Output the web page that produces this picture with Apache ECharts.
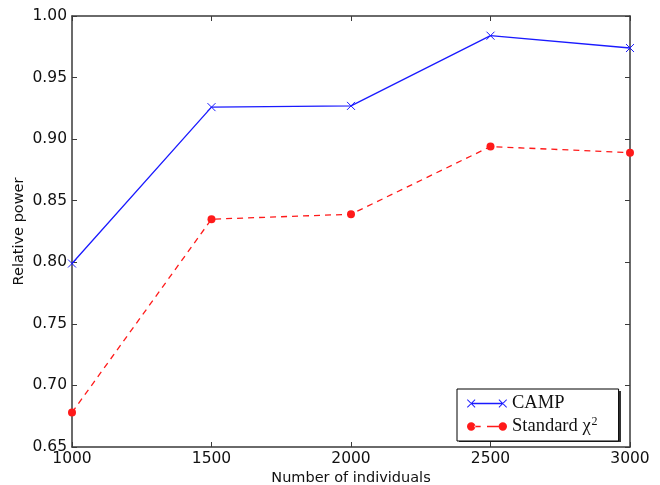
<!DOCTYPE html>
<html>
<head>
<meta charset="utf-8">
<script src="https://cdn.jsdelivr.net/npm/echarts@6/dist/echarts.min.js"></script>
<style>
  html, body { margin: 0; padding: 0; background: #fff; }
  #main { width: 660px; height: 485px; }
</style>
</head>
<body>
<div id="main"></div>
<script>
// data
const individuals = [1000, 1500, 2000, 2500, 3000];
const campPower = [0.799, 0.926, 0.927, 0.984, 0.974];
const chi2Power = [0.678, 0.835, 0.839, 0.894, 0.889];
const yTicks = { min: 0.65, max: 1.00, step: 0.05 };
const xTicks = { min: 1000, max: 3000, step: 500 };

const frame = '#3a3a3a';
const blue = '#1a1aff';
const red = '#ff1a1a';
const tickFont = { fontFamily: 'DejaVu Sans', fontSize: 15.5, color: '#111' };
const nameFont = { fontFamily: 'DejaVu Sans', fontSize: 14.5, color: '#111' };

// legend glyphs like matplotlib: marker at both ends of the line
const crossIcon = 'path://M1,1.6L1.6,1L9,8.4L8.4,9ZM1,8.4L8.4,1L9,1.6L1.6,9Z' +
    'M31,1.6L31.6,1L39,8.4L38.4,9ZM31,8.4L38.4,1L39,1.6L31.6,9Z' +
    'M5,4.4L35,4.4L35,5.6L5,5.6Z';
const dotIcon = 'path://M1,5A4,4,0,1,0,9,5A4,4,0,1,0,1,5Z' +
    'M31,5A4,4,0,1,0,39,5A4,4,0,1,0,31,5Z' +
    'M8,4.4L14,4.4L14,5.6L8,5.6Z' +
    'M20,4.4L31,4.4L31,5.6L20,5.6Z';

function pairs(xs, ys) {
    return xs.map((x, i) => [x, ys[i]]);
}

let chart = echarts.init(document.getElementById('main'));
chart.setOption({
    animation: false,
    backgroundColor: '#fff',
    grid: { left: 72, right: 30, top: 16, bottom: 38, show: false, outerBoundsMode: 'none', containLabel: false },
    graphic: [{
        // legend drop shadow
        type: 'rect',
        left: 459, top: 391, z: 3,
        shape: { width: 162, height: 51 },
        style: { fill: 'rgba(0,0,0,0.8)' }
    }],
    legend: {
        orient: 'vertical',
        left: 457,
        top: 389,
        z: 4,
        padding: [5, 21, 5, 10],
        itemGap: 3,
        itemWidth: 40,
        itemHeight: 10,
        backgroundColor: '#fff',
        borderColor: '#000',
        borderWidth: 1,
        data: [
            { name: 'CAMP', icon: crossIcon, itemStyle: { color: blue, borderWidth: 0 } },
            { name: 'Standard χ2', icon: dotIcon, itemStyle: { color: red, borderWidth: 0 } }
        ],
        formatter: function (name) {
            return name === 'CAMP' ? 'CAMP' : 'Standard χ{sup|2}';
        },
        textStyle: {
            fontFamily: 'Liberation Serif',
            fontSize: 18.5,
            color: '#111',
            rich: {
                sup: { fontFamily: 'Liberation Serif', fontSize: 12, color: '#111', padding: [0, 0, 9, 1] }
            }
        }
    },
    xAxis: [{
        type: 'value',
        min: xTicks.min, max: xTicks.max, interval: xTicks.step,
        name: 'Number of individuals',
        nameLocation: 'middle',
        nameGap: 24,
        nameMoveOverlap: false,
        nameTextStyle: nameFont,
        axisLine: { show: true, lineStyle: { color: frame, width: 1.5 } },
        axisTick: { inside: true, length: 5, lineStyle: { color: frame } },
        axisLabel: Object.assign({ margin: 4, formatter: v => String(v) }, tickFont),
        splitLine: { show: false }
    }, {
        type: 'value', position: 'top',
        min: xTicks.min, max: xTicks.max, interval: xTicks.step,
        axisLine: { show: true, lineStyle: { color: frame, width: 1.5 } },
        axisTick: { inside: true, length: 5, lineStyle: { color: frame } },
        axisLabel: { show: false },
        splitLine: { show: false }
    }],
    yAxis: [{
        type: 'value',
        min: yTicks.min, max: yTicks.max, interval: yTicks.step,
        name: 'Relative power',
        nameLocation: 'middle',
        nameGap: 45,
        nameMoveOverlap: false,
        nameTextStyle: nameFont,
        axisLine: { show: true, lineStyle: { color: frame, width: 1.5 } },
        axisTick: { inside: true, length: 5, lineStyle: { color: frame } },
        axisLabel: Object.assign({ margin: 5, formatter: v => v.toFixed(2) }, tickFont),
        splitLine: { show: false }
    }, {
        type: 'value', position: 'right',
        min: yTicks.min, max: yTicks.max, interval: yTicks.step,
        axisLine: { show: true, lineStyle: { color: frame, width: 1.5 } },
        axisTick: { inside: true, length: 5, lineStyle: { color: frame } },
        axisLabel: { show: false },
        splitLine: { show: false }
    }],
    series: [{
        name: 'CAMP',
        type: 'line',
        data: pairs(individuals, campPower),
        symbol: 'path://M0,0L10,10M10,0L0,10',
        symbolSize: 8,
        showAllSymbol: true,
        clip: false,
        lineStyle: { color: blue, width: 1.3 },
        itemStyle: { color: 'none', borderColor: blue, borderWidth: 1 },
        z: 2
    }, {
        name: 'Standard χ2',
        type: 'line',
        data: pairs(individuals, chi2Power),
        symbol: 'circle',
        symbolSize: 8,
        clip: false,
        lineStyle: { color: red, width: 1.3, type: [6, 5] },
        itemStyle: { color: red, borderWidth: 0 },
        z: 2
    }]
});
</script>
</body>
</html>
